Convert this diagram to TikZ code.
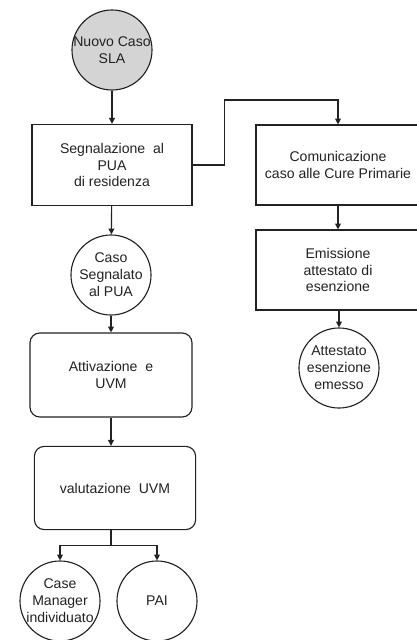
\documentclass[tikz,border=0pt]{standalone}
\usepackage{fontspec}
\setmainfont{Liberation Sans}
\usetikzlibrary{arrows.meta,calc}
\definecolor{inkgray}{HTML}{222222}

\begin{document}
\begin{tikzpicture}[x=0.025cm,y=-0.025cm,
 txt/.style={align=center,font=\fontsize{10}{12}\selectfont,text=inkgray},
 stepbox/.style={rectangle,draw=inkgray,line width=0.8pt,minimum width=4cm,minimum height=2cm,txt},
 roundbox/.style={stepbox,rounded corners=7pt},
 stato/.style={circle,draw=inkgray,line width=0.8pt,minimum size=2cm,inner sep=0pt,
  label={[txt]center:#1}},
 link/.style={draw=inkgray,line width=0.8pt},
 arr/.style={link,-{Triangle[length=4.2pt,width=4.2pt]}}]

\useasboundingbox (0,0) rectangle (416,640);

% Main column: from the new case to the UVM evaluation
\node[stato={Nuovo Caso\\SLA},fill=black!17] (nuovo) at (112,50) {};
\node[stepbox,minimum width=4cm,minimum height=2.03cm] (segn) at (112,165)
 {Segnalazione\ \ al\\PUA\\di residenza};
\node[stato={Caso\\Segnalato\\al PUA}] (caso) at (111,275) {};
\node[roundbox,minimum width=4.05cm,minimum height=2.1cm] (attiv) at (111,375)
 {Attivazione\ \ e\\UVM};
\node[roundbox,minimum width=4.03cm,minimum height=2.08cm] (valut) at (115,488)
 {valutazione\ \ UVM};

% Outcomes of the evaluation
\node[stato={Case\\Manager\\individuato}] (caseman) at (60,601) {};
\node[stato={PAI}] (pai) at (157,601) {};

% Side column: primary care
\node[stepbox,minimum width=4.1cm] (comu) at (338,165)
 {Comunicazione\\caso alle Cure Primarie};
\node[stepbox,minimum width=4.1cm] (emis) at (338,270)
 {Emissione\\attestato di\\esenzione};
\node[stato={Attestato\\esenzione\\emesso}] (attest) at (339,368) {};

% Connectors
\draw[arr] (nuovo) -- (segn);
\draw[arr] (segn) -- (caso);
\draw[arr] (caso) -- (attiv);
\draw[arr] (attiv.south) -- (attiv.south |- valut.north);
\draw[link] (attiv.south |- valut.south) -- ++(0,15) coordinate (split);
\draw[arr] (split) -| (caseman);
\draw[arr] (split) -| (pai);
\draw[arr] (segn.east) -- ++(32,0) coordinate (bend) -- (bend |- 0,100) -| (comu.north);
\draw[arr] (comu) -- (emis);
\draw[arr] (emis.south -| attest) -- (attest);
\end{tikzpicture}
\end{document}
